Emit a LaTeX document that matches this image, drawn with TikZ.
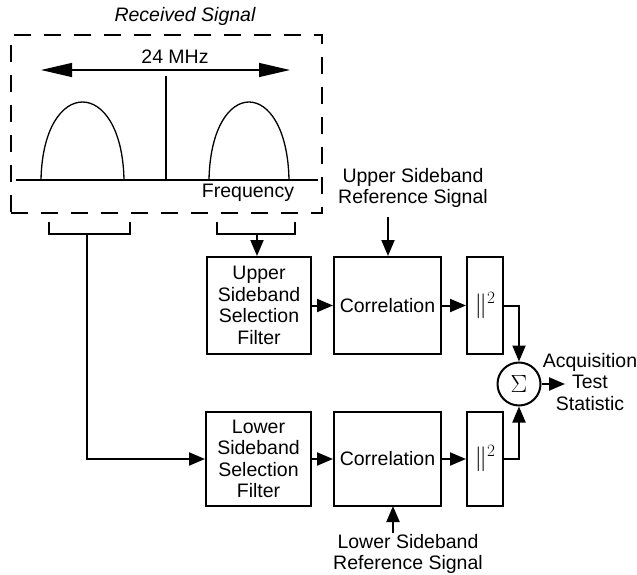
\documentclass[tikz,border=0pt]{standalone}
\usepackage{fontspec}
\setmainfont{Liberation Sans}
\usetikzlibrary{arrows.meta}
\begin{document}
\begin{tikzpicture}[x=1pt,y=-1pt,
  font=\fontsize{19.5}{21.5}\selectfont,
  blk/.style={draw, line width=2pt, inner sep=0pt, align=center},
  thin/.style={line width=1.3pt},
  arr/.style={line width=2pt, -{Triangle[length=16pt,width=13pt]}},
  dbl/.style={line width=1.3pt, {Triangle[length=31pt,width=14pt]}-{Triangle[length=31pt,width=14pt]}},
  lbl/.style={inner sep=0pt, align=center},
  sqf/.style={font=\fontsize{27}{27}\selectfont}]
\useasboundingbox (0,0) rectangle (637,575);
% received signal
\node[lbl, font=\fontsize{19.5}{21.5}\selectfont\itshape] (rtitle) at (185,16) {Received Signal};
\node[draw, line width=1.3pt, dash pattern=on 17pt off 13pt, minimum width=311pt, minimum height=178pt, inner sep=0pt] (rs) at (166.5,124) {};
\coordinate (al) at (41,70);
\coordinate (ar) at (290,70);
\draw[dbl] (al) -- (ar);
\node[lbl] (mhz) at (175,57) {24 MHz};
\coordinate (bl) at (16,180);
\coordinate (br) at (318,180);
\draw[thin] (bl) -- (br);
\draw[thin] (166,76) -- (166,180);
\draw[thin] (41,180) .. controls (43,76) and (122,76) .. (124,180);
\draw[thin] (209,180) .. controls (211,76) and (287,76) .. (289,180);
\node[lbl] (freq) at (248,193) {Frequency};
% brackets
\draw[line width=2pt] (49,222) -- (49,234) -- (130,234) -- (130,222);
\draw[line width=2pt] (217,222) -- (217,234) -- (295,234) -- (295,222);
\coordinate (lstem) at (87,234);
\coordinate (rstem) at (257,234);
% upper chain
\node[blk, minimum width=104pt, minimum height=97pt] (uf) at (259,305.5) {Upper\\Sideband\\Selection\\Filter};
\node[blk, minimum width=107pt, minimum height=97pt] (uc) at (387.5,305.5) {Correlation};
\node[blk, sqf, minimum width=36pt, minimum height=97pt] (us) at (485,305.5) {$\Vert^{2}$};
% lower chain
\node[blk, minimum width=105pt, minimum height=94pt] (lf) at (258.5,459) {Lower\\Sideband\\Selection\\Filter};
\node[blk, minimum width=107pt, minimum height=94pt] (lc) at (387.5,459) {Correlation};
\node[blk, sqf, minimum width=36pt, minimum height=94pt] (ls) at (485,459) {$\Vert^{2}$};
% sum
\node[draw, circle, line width=2pt, minimum size=43pt, inner sep=0pt, font=\fontsize{26}{26}\selectfont] (sum) at (519,384) {$\Sigma$};
\node[lbl] (stat) at (590,382) {Acquisition\\Test\\Statistic};
\coordinate (out) at (565,384);
% reference signals
\node[lbl] (uref) at (413,188) {Upper Sideband\\Reference Signal};
\coordinate (urefa) at (388,217);
\node[lbl] (lref) at (408,554) {Lower Sideband\\Reference Signal};
\coordinate (lrefa) at (393,533);
\coordinate (lrefb) at (393,506);
% connectors
\draw[arr] (rstem) -- (rstem |- uf.north);
\draw[arr] (lstem) |- (lf.west);
\draw[arr] (uf.east) -- (uc.west);
\draw[arr] (uc.east) -- (us.west);
\draw[arr] (lf.east) -- (lc.west);
\draw[arr] (lc.east) -- (ls.west);
\draw[arr] (urefa) -- (urefa |- uc.north);
\draw[arr] (lrefa) -- (lrefb);
\draw[arr] (us.east) -| (sum.north);
\draw[arr] (ls.east) -| (sum.south);
\draw[arr] (sum.east) -- (out);
\end{tikzpicture}
\end{document}
